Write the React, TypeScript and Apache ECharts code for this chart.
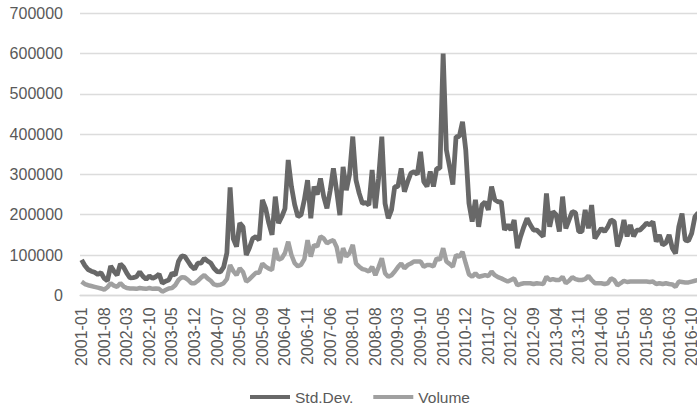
import React, { useEffect, useRef } from "react";
import * as echarts from "echarts";

// Monthly categories 2001-01 .. 2016-12
const startYear = 2001;
const endYear = 2016;
const months: string[] = [];
for (let y = startYear; y <= endYear; y++) {
  for (let m = 1; m <= 12; m++) {
    months.push(`${y}-${m < 10 ? "0" + m : m}`);
  }
}

// Std.Dev. (values in thousands)
const stdDevK: number[] = [
  88, 74, 64, 60, 57, 52, 56, 42, 36, 73, 60, 50, 78, 70, 55, 43, 44, 46, 58, 47,
  40, 48, 42, 46, 53, 30, 35, 38, 55, 50, 84, 98, 96, 84, 72, 65, 80, 80, 92, 85,
  80, 67, 59, 58, 70, 105, 268, 140, 121, 179, 170, 100, 118, 141, 146, 137, 237, 216, 179, 150,
  245, 179, 195, 215, 336, 270, 225, 195, 200, 237, 286, 191, 270, 250, 290, 245, 216, 260, 315, 260,
  199, 319, 261, 300, 394, 286, 253, 228, 230, 224, 311, 216, 290, 394, 228, 191, 212, 270, 270, 315,
  257, 282, 303, 307, 300, 356, 282, 270, 307, 270, 315, 315, 600, 361, 319, 275, 394, 394, 431, 361,
  228, 183, 237, 170, 224, 232, 212, 270, 237, 232, 232, 162, 175, 162, 187, 117, 146, 170, 191, 175,
  162, 162, 154, 146, 253, 170, 208, 200, 158, 245, 166, 187, 208, 205, 158, 158, 212, 166, 224, 141,
  154, 166, 158, 170, 187, 183, 121, 146, 187, 146, 175, 146, 162, 162, 170, 179, 175, 183, 133, 150,
  125, 130, 150, 117, 104, 170, 203, 137, 135, 154, 195, 205,
];

// Volume (values in thousands)
const volumeK: number[] = [
  34, 28, 25, 23, 21, 19, 17, 14, 20, 30, 24, 21, 30, 22, 18, 17, 17, 16, 18, 17,
  16, 18, 16, 17, 16, 9, 13, 17, 18, 25, 38, 45, 44, 38, 30, 30, 36, 44, 50, 42,
  36, 27, 25, 26, 30, 40, 75, 60, 50, 67, 58, 34, 40, 48, 56, 56, 79, 71, 66, 63,
  117, 88, 92, 105, 133, 100, 80, 72, 76, 90, 137, 96, 125, 121, 146, 141, 129, 134, 137, 120,
  80, 117, 96, 105, 125, 79, 71, 65, 63, 59, 71, 50, 70, 92, 55, 46, 50, 59, 70, 79,
  67, 75, 79, 84, 84, 84, 71, 75, 75, 72, 92, 88, 117, 84, 78, 71, 100, 96, 108, 79,
  52, 46, 55, 46, 48, 50, 48, 59, 50, 45, 42, 38, 34, 38, 42, 25, 28, 30, 30, 30,
  28, 30, 29, 28, 46, 38, 40, 38, 38, 46, 30, 36, 45, 40, 38, 38, 40, 48, 38, 30,
  30, 30, 28, 30, 42, 38, 25, 30, 36, 33, 34, 34, 34, 34, 34, 34, 33, 34, 28, 30,
  28, 30, 28, 27, 21, 34, 33, 32, 32, 34, 36, 38,
];

const yMin = 0;
const yMax = 700000;
const yInterval = 100000;

const stdDev = stdDevK.map((v) => v * 1000);
const volume = volumeK.map((v) => v * 1000);

export default function App() {
  const ref = useRef<HTMLDivElement>(null);
  useEffect(() => {
    document.body.style.margin = "0";
    const chart = echarts.init(ref.current!, undefined, { renderer: "svg" });
    const font = "Liberation Sans, Arial, sans-serif";
    const textColor = "#595959";
    chart.setOption({
      animation: false,
      backgroundColor: "#ffffff",
      grid: {
        left: 80,
        top: 13.3,
        width: months.length * 3.228,
        height: 282,
        containLabel: false,
        outerBoundsMode: "none",
      },
      legend: {
        left: 250,
        top: 389,
        padding: 0,
        itemWidth: 40,
        itemHeight: 4,
        itemGap: 20,
        textStyle: { fontFamily: font, fontSize: 15.5, color: textColor },
        data: [
          { name: "Std.Dev.", icon: "rect" },
          { name: "Volume", icon: "rect" },
        ],
      },
      xAxis: {
        type: "category",
        data: months,
        boundaryGap: true,
        axisLine: { lineStyle: { color: "#d9d9d9", width: 1.3 } },
        axisTick: { show: false },
        axisLabel: {
          interval: 6,
          rotate: 90,
          margin: 12,
          fontFamily: font,
          fontSize: 16,
          color: textColor,
        },
      },
      yAxis: {
        type: "value",
        min: yMin,
        max: yMax,
        interval: yInterval,
        axisLine: { show: false },
        axisTick: { show: false },
        splitLine: { lineStyle: { color: "#dcdcdc", width: 1.3 } },
        axisLabel: {
          margin: 17,
          fontFamily: font,
          fontSize: 16,
          color: textColor,
          formatter: (v: number) => String(v),
        },
      },
      series: [
        {
          name: "Std.Dev.",
          type: "line",
          data: stdDev,
          symbol: "none",
          lineStyle: { color: "#686868", width: 4.8 },
          itemStyle: { color: "#686868" },
        },
        {
          name: "Volume",
          type: "line",
          data: volume,
          symbol: "none",
          lineStyle: { color: "#a0a0a0", width: 4.5 },
          itemStyle: { color: "#a0a0a0" },
        },
      ],
    });
    return () => chart.dispose();
  }, []);
  return <div ref={ref} style={{ width: 697, height: 410 }} />;
}
